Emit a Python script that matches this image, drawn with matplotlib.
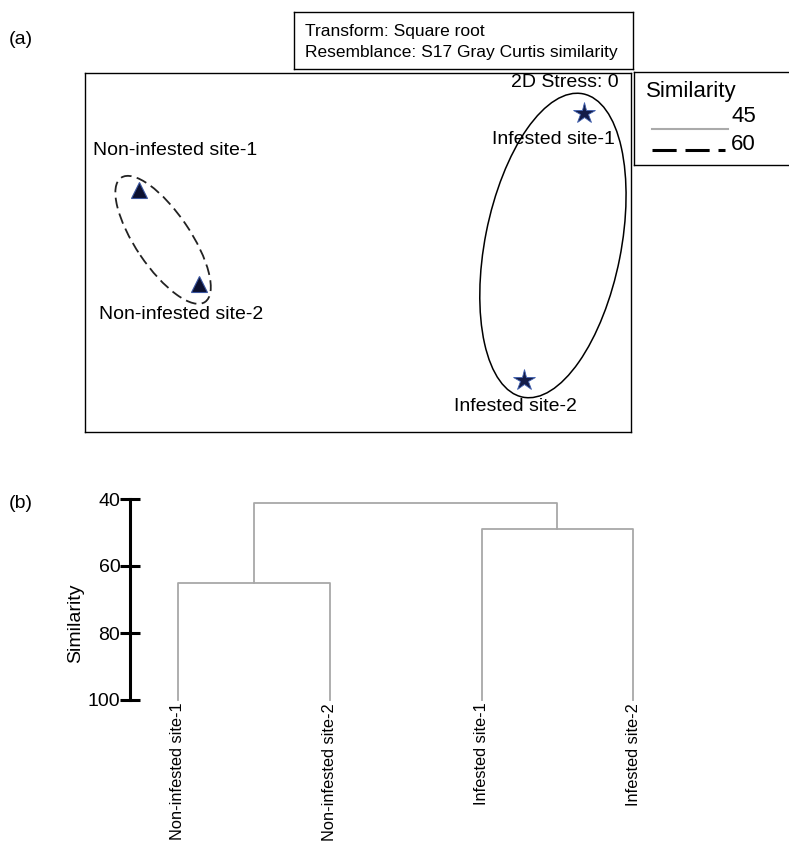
import matplotlib.pyplot as plt
from matplotlib.patches import Ellipse
from matplotlib.lines import Line2D

plt.rcParams['font.family'] = ['Liberation Sans', 'DejaVu Sans']

# nMDS ordination (a)
site_names = ['Non-infested site-1', 'Non-infested site-2', 'Infested site-1', 'Infested site-2']
mds_x = [-1.204, -0.876, 1.240, 0.912]
mds_y = [0.343, -0.173, 0.765, -0.701]
site_group = ['non', 'non', 'inf', 'inf']
stress = 0
transform = 'Square root'
resemblance = 'S17 Gray Curtis similarity'

# cluster dendrogram (b): leaf order and merges (left, right, similarity)
leaf_order = ['Non-infested site-1', 'Non-infested site-2', 'Infested site-1', 'Infested site-2']
merges = [(0, 1, 65.0), (2, 3, 49.0), (4, 5, 41.3)]
sim_ticks = [40, 60, 80, 100]

W, H = 789, 844
fig = plt.figure(figsize=(W / 100, H / 100), dpi=100)


def box(l, t, r, b):
    return [l / W, 1 - b / H, (r - l) / W, (b - t) / H]


# ---- panel (a)
ax = fig.add_axes(box(85, 72.5, 631, 432.3))
ax.set_xlim(-1.5, 1.5)
ax.set_ylim(-0.989, 0.989)
ax.set_xticks([])
ax.set_yticks([])
for sp in ax.spines.values():
    sp.set_linewidth(1.0)

for x, y, g in zip(mds_x, mds_y, site_group):
    if g == 'non':
        ax.plot(x, y, marker='^', ms=12, mfc='#0b1030', mec='#3a55a0', mew=0.8, ls='none')
    else:
        ax.plot(x, y, marker='*', ms=16, mfc='#141c48', mec='#4060b0', mew=0.6, ls='none')

# similarity contours
ax.add_patch(Ellipse((-1.071, 0.069), 0.824, 0.302, angle=-56, fill=False,
                     ec='#222222', lw=1.3, ls=(0, (6, 3))))
ax.add_patch(Ellipse((1.071, 0.038), 1.70, 0.747, angle=78.8, fill=False,
                     ec='black', lw=1.1))

label_pos = [(-1.003, 0.559), (-0.973, -0.343), (1.076, 0.622), (0.863, -0.849)]
for name, (lx, ly) in zip(site_names, label_pos):
    ax.text(lx, ly, name, fontsize=14, ha='center', va='center')
ax.text(1.431, 0.933, '2D Stress: {}'.format(stress), fontsize=14, ha='right', va='center')

# info box
axi = fig.add_axes(box(293.6, 11.7, 633.4, 69))
axi.set_xticks([])
axi.set_yticks([])
for sp in axi.spines.values():
    sp.set_linewidth(1.0)
axi.text(0.035, 0.66, 'Transform: ' + transform, fontsize=12.5, va='center', transform=axi.transAxes)
axi.text(0.035, 0.28, 'Resemblance: ' + resemblance, fontsize=12.5, va='center', transform=axi.transAxes)

# legend box
axl = fig.add_axes(box(634, 72.5, 834, 165))
axl.set_xlim(634, 834)
axl.set_ylim(165, 72.5)
axl.set_xticks([])
axl.set_yticks([])
for sp in axl.spines.values():
    sp.set_linewidth(1.0)
axl.text(646, 92, 'Similarity', fontsize=16, va='center')
axl.add_line(Line2D([652, 728], [129, 129], color='#aaaaaa', lw=1.5))
axl.text(731, 117, '45', fontsize=16, va='center')
axl.add_line(Line2D([652, 725], [150, 150], color='black', lw=2.2, ls=(0, (7.9, 2.9))))
axl.text(731, 145, '60', fontsize=16, va='center')

fig.text(9 / W, 1 - 40 / H, '(a)', fontsize=14, va='center')
fig.text(9 / W, 1 - 503 / H, '(b)', fontsize=14, va='center')

# ---- panel (b)
axd = fig.add_axes(box(130, 499, 679, 700))
axd.set_ylim(100, 40)
axd.set_xlim(-0.314, 3.3)
for s in ['top', 'right', 'bottom']:
    axd.spines[s].set_visible(False)
axd.spines['left'].set_linewidth(2.2)
axd.set_yticks(sim_ticks)
axd.tick_params(axis='y', direction='inout', length=14, width=2.2, pad=0, labelsize=14)
axd.set_xticks(range(len(leaf_order)))
axd.set_xticklabels(leaf_order, rotation=90, fontsize=11.8)
axd.tick_params(axis='x', length=0, pad=2)
axd.set_ylabel('Similarity', fontsize=14)
axd.yaxis.set_label_coords(-0.084, 0.383)

node_x = list(range(len(leaf_order)))
node_h = [100.0] * len(leaf_order)
for a, b, h in merges:
    axd.plot([node_x[a], node_x[a], node_x[b], node_x[b]],
             [node_h[a], h, h, node_h[b]], color='#a8a8a8', lw=1.3, clip_on=False)
    node_x.append((node_x[a] + node_x[b]) / 2)
    node_h.append(h)

fig.savefig('out.png', dpi=100)
